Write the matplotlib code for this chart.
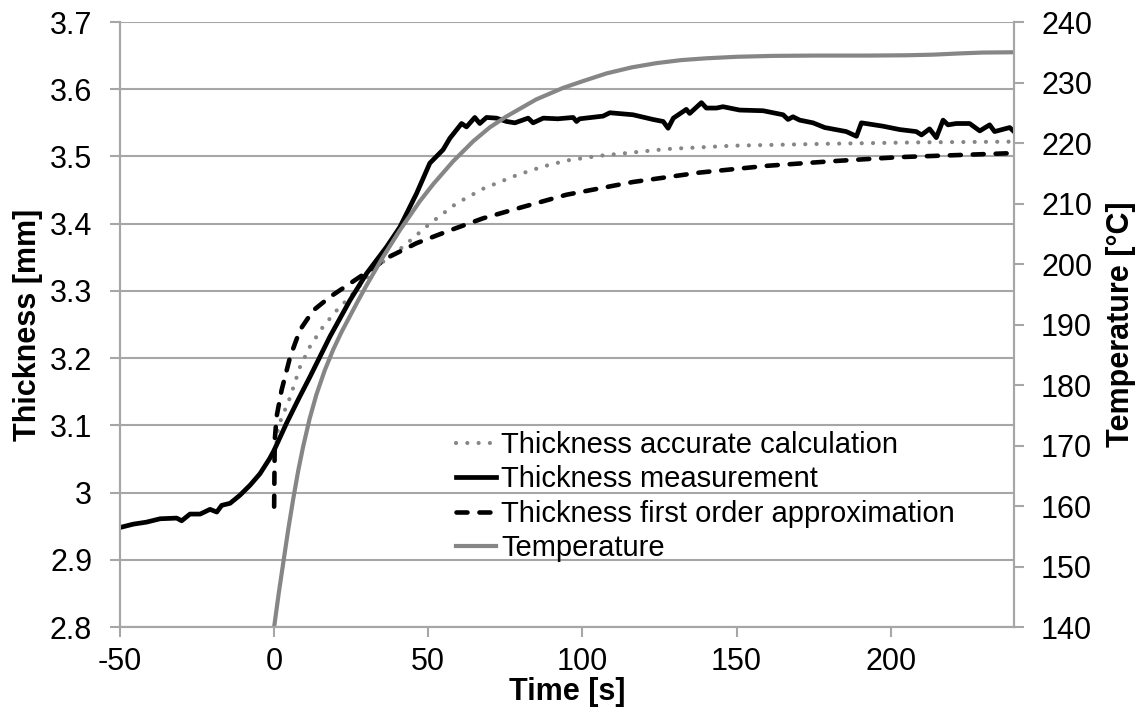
import matplotlib
matplotlib.use("Agg")
import matplotlib.pyplot as plt

plt.rcParams['font.family'] = ['Liberation Sans', 'DejaVu Sans']
plt.rcParams['axes.unicode_minus'] = False

# Measured thickness [mm] over time [s]
meas_t = [-50, -45.7, -41.4, -37, -31.6, -30, -27.3, -24, -20.8, -18.6, -17, -14.3,
          -11.1, -7.8, -4.6, -1.4, 0, 4, 8, 11.6, 18.1, 24.6, 30, 36.4, 40.8, 46.2,
          50.5, 54.8, 57, 60.8, 62.4, 65.1, 66.7, 68.9, 72.1, 75.4, 78.1, 82.4, 84,
          87.3, 92, 97, 98.1, 99.1, 106.7, 108.9, 116.4, 122.9, 126.2, 127.8, 129.5,
          133.7, 134.8, 138.6, 140.2, 143.5, 145.6, 151, 158.6, 165.1, 166.7, 168.3,
          170.5, 174.8, 178.6, 185.6, 188.9, 190.5, 197.5, 202.9, 208.3, 210, 212.6,
          214.8, 217, 218.6, 221.3, 225.6, 228.9, 232.1, 233.7, 238.6, 240]
meas_y = [2.948, 2.953, 2.956, 2.961, 2.962, 2.958, 2.968, 2.968, 2.975, 2.971, 2.981, 2.984,
          2.996, 3.011, 3.028, 3.051, 3.063, 3.103, 3.140, 3.172, 3.232, 3.286, 3.326, 3.365, 3.395, 3.445,
          3.490, 3.510, 3.527, 3.549, 3.544, 3.558, 3.549, 3.558, 3.557, 3.552, 3.550, 3.557, 3.550,
          3.557, 3.556, 3.558, 3.552, 3.556, 3.560, 3.565, 3.562, 3.555, 3.552, 3.542, 3.557,
          3.570, 3.564, 3.580, 3.572, 3.572, 3.574, 3.569, 3.568, 3.562, 3.555, 3.559,
          3.554, 3.550, 3.543, 3.537, 3.530, 3.550, 3.545, 3.540, 3.537, 3.532, 3.541,
          3.528, 3.554, 3.547, 3.549, 3.549, 3.538, 3.547, 3.537, 3.543, 3.537]

# Thickness from the accurate calculation
calc_t = [0.8, 1.3, 5.2, 8.4, 11.6, 15.9, 20.3, 24.6, 33.2, 41.9, 50.5, 59.1, 67.8,
          73.2, 78.6, 87.2, 95, 105.6, 127.2, 148.8, 181.3, 210, 240]
calc_y = [3.075, 3.098, 3.142, 3.187, 3.217, 3.247, 3.271, 3.291, 3.336, 3.366, 3.400, 3.430, 3.452,
          3.462, 3.472, 3.485, 3.494, 3.501, 3.511, 3.516, 3.519, 3.521, 3.522]

# Thickness from the first order approximation
approx_t = [0, 0.2, 0.8, 2.4, 5.2, 8.4, 12.7, 18.1, 24.6, 31.1, 37.5, 46.2, 57, 67.8,
            80, 94.8, 116.4, 138, 159.7, 181.3, 202.9, 240]
approx_y = [2.979, 3.078, 3.113, 3.152, 3.202, 3.242, 3.271, 3.291, 3.311, 3.331, 3.351, 3.371,
            3.390, 3.408, 3.424, 3.443, 3.462, 3.476, 3.486, 3.493, 3.499, 3.505]

# Temperature [°C]
temp_t = [0, 1.5, 3.1, 4.6, 6.2, 7.8, 9.4, 11.5, 13.7, 16.4, 19.2, 21.9, 24.6, 27.3,
          30, 35, 40.8, 47.3, 51.6, 58.1, 64.6, 70, 75.4, 85, 93.7, 100, 107.8, 116,
          124, 132, 140.2, 150, 161.8, 175, 192.1, 205, 213.7, 222, 229.9, 240]
temp_y = [140, 145.6, 151.1, 156.2, 161.2, 165.8, 169.8, 174.4, 178.4, 182.4, 185.9, 188.8,
          191.4, 194.0, 196.5, 200.9, 205.6, 210.4, 213.2, 217.0, 220.3, 222.6, 224.4, 227.2,
          229.1, 230.2, 231.5, 232.5, 233.2, 233.7, 234.0, 234.25, 234.4, 234.45, 234.45,
          234.5, 234.6, 234.8, 234.95, 235.0]

x_ticks = [-50, 0, 50, 100, 150, 200]
thick_ticks = [2.8, 2.9, 3.0, 3.1, 3.2, 3.3, 3.4, 3.5, 3.6, 3.7]
thick_labels = ['2.8', '2.9', '3', '3.1', '3.2', '3.3', '3.4', '3.5', '3.6', '3.7']
temp_ticks = [140, 150, 160, 170, 180, 190, 200, 210, 220, 230, 240]

FS = 22
LEG_FS = 21
GRID = '#a6a6a6'
GRAY = '#868686'

fig = plt.figure(figsize=(11.43, 7.22), dpi=100)
ax = fig.add_axes([120 / 1143, 1 - 627 / 722, (1014 - 120) / 1143, (627 - 22) / 722])
ax2 = ax.twinx()

l_calc, = ax.plot(calc_t, calc_y, color=GRAY, lw=3.0, linestyle=(0, (0.01, 2.7)),
                  dash_capstyle='round', solid_capstyle='round',
                  label='Thickness accurate calculation')
l_meas, = ax.plot(meas_t, meas_y, color='black', lw=3.4, solid_joinstyle='round',
                  label='Thickness measurement')
l_appr, = ax.plot(approx_t, approx_y, color='black', lw=3.3, linestyle=(0, (2.4, 2.6)),
                  dash_capstyle='round', label='Thickness first order approximation')
l_temp, = ax2.plot(temp_t, temp_y, color=GRAY, lw=3.0, label='Temperature')

ax.set_xlim(-50, 240)
ax.set_ylim(2.8, 3.7)
ax2.set_ylim(140, 240)

ax.set_xticks(x_ticks)
ax.set_yticks(thick_ticks)
ax.set_yticklabels(thick_labels)
ax2.set_yticks(temp_ticks)

ax.yaxis.grid(True, color=GRID, lw=1.5)
ax.set_axisbelow(True)

for a in (ax, ax2):
    for s in a.spines.values():
        s.set_color(GRID)
        s.set_linewidth(1.5)
    a.spines['top'].set_visible(False)

ax.tick_params(axis='both', labelsize=FS, color=GRID, width=1.5, length=7.5)
ax.tick_params(axis='y', pad=12.5)
ax.tick_params(axis='x', pad=7)
ax2.tick_params(axis='y', labelsize=FS, color=GRID, width=1.5, length=7.5, pad=12)

ax.set_xlabel('Time [s]', fontsize=FS, fontweight='bold', labelpad=0)
ax.set_ylabel('Thickness [mm]', fontsize=FS, fontweight='bold', labelpad=5)
ax2.set_ylabel('Temperature [°C]', fontsize=FS, fontweight='bold', labelpad=10)

ax.legend(handles=[l_calc, l_meas, l_appr, l_temp], loc='lower left',
          bbox_to_anchor=(456 / 1143, 1 - 562 / 722), bbox_transform=fig.transFigure,
          frameon=False, fontsize=LEG_FS, handlelength=1.37, handletextpad=0.17,
          labelspacing=0.215, borderpad=0, borderaxespad=0)

fig.savefig('out.png', dpi=100)
